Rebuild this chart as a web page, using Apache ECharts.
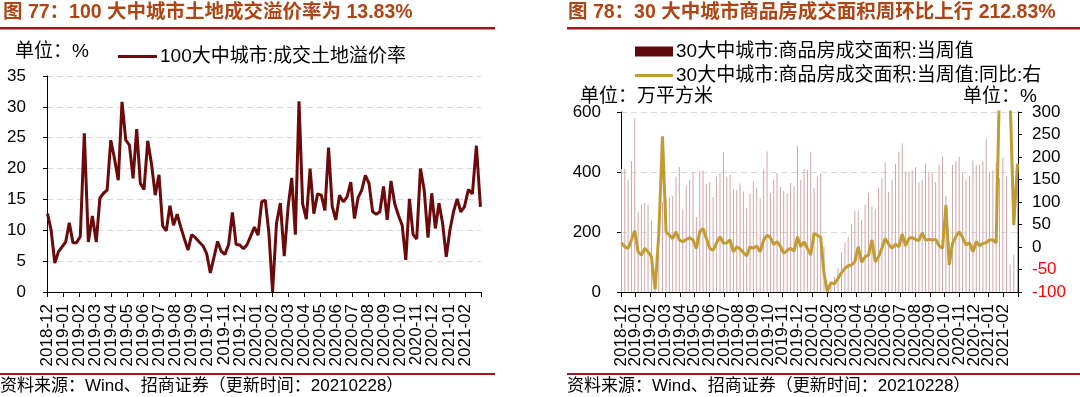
<!DOCTYPE html>
<html>
<head>
<meta charset="utf-8">
<script src="https://cdn.jsdelivr.net/npm/echarts@6/dist/echarts.min.js"></script>
<style>html,body{margin:0;padding:0;background:#fff;}#c{width:1080px;height:397px;}</style>
</head>
<body>
<div id="c"></div>
<script>
// ---------- data ----------
const weekDates = [
'2018-12-02','2018-12-09','2018-12-16','2018-12-23','2018-12-30',
'2019-01-06','2019-01-13','2019-01-20','2019-01-27',
'2019-02-03','2019-02-10','2019-02-17','2019-02-24',
'2019-03-03','2019-03-10','2019-03-17','2019-03-24','2019-03-31',
'2019-04-07','2019-04-14','2019-04-21','2019-04-28',
'2019-05-05','2019-05-12','2019-05-19','2019-05-26',
'2019-06-02','2019-06-09','2019-06-16','2019-06-23','2019-06-30',
'2019-07-07','2019-07-14','2019-07-21','2019-07-28',
'2019-08-04','2019-08-11','2019-08-18','2019-08-25',
'2019-09-01','2019-09-08','2019-09-15','2019-09-22','2019-09-29',
'2019-10-06','2019-10-13','2019-10-20','2019-10-27',
'2019-11-03','2019-11-10','2019-11-17','2019-11-24',
'2019-12-01','2019-12-08','2019-12-15','2019-12-22','2019-12-29',
'2020-01-05','2020-01-12','2020-01-19','2020-01-26',
'2020-02-02','2020-02-09','2020-02-16','2020-02-23',
'2020-03-01','2020-03-08','2020-03-15','2020-03-22','2020-03-29',
'2020-04-05','2020-04-12','2020-04-19','2020-04-26',
'2020-05-03','2020-05-10','2020-05-17','2020-05-24','2020-05-31',
'2020-06-07','2020-06-14','2020-06-21','2020-06-28',
'2020-07-05','2020-07-12','2020-07-19','2020-07-26',
'2020-08-02','2020-08-09','2020-08-16','2020-08-23','2020-08-30',
'2020-09-06','2020-09-13','2020-09-20','2020-09-27',
'2020-10-04','2020-10-11','2020-10-18','2020-10-25',
'2020-11-01','2020-11-08','2020-11-15','2020-11-22','2020-11-29',
'2020-12-06','2020-12-13','2020-12-20','2020-12-27',
'2021-01-03','2021-01-10','2021-01-17','2021-01-24','2021-01-31',
'2021-02-07','2021-02-14','2021-02-21','2021-02-28'
];
// month tick labels (one per month boundary; last boundary = end of 2021-02, unlabeled)
const monthLabels = [
'2018-12','2019-01','2019-02','2019-03','2019-04','2019-05','2019-06','2019-07','2019-08',
'2019-09','2019-10','2019-11','2019-12','2020-01','2020-02','2020-03','2020-04','2020-05',
'2020-06','2020-07','2020-08','2020-09','2020-10','2020-11','2020-12','2021-01','2021-02',''
];
// 100大中城市:成交土地溢价率 (%)
const landPremium = [
12.7,10.0,4.7,6.5,7.3,8.1,11.2,8.0,8.0,9.0,
25.7,8.1,12.3,8.1,15.2,16.0,16.5,24.6,21.6,18.1,
30.8,24.6,23.8,18.4,26.4,17.6,16.6,24.5,20.8,15.7,
19.0,10.7,9.9,14.0,10.8,12.6,10.5,8.6,6.8,9.3,
8.8,8.1,7.5,6.2,3.1,5.6,8.2,6.6,6.1,7.7,
12.9,7.7,7.6,7.0,7.7,9.1,10.5,9.2,14.6,14.9,
9.5,0.0,11.1,14.4,5.8,13.8,18.5,9.3,30.9,
14.3,11.8,20.0,12.7,15.9,15.7,13.2,23.4,13.9,11.7,
15.7,14.6,15.4,17.8,11.9,15.3,16.5,18.9,17.6,13.0,
12.6,13.0,17.1,11.7,18.0,14.3,12.4,10.8,5.2,15.1,
9.3,8.6,20.0,16.5,8.8,16.0,10.3,14.4,11.1,5.7,
10.0,13.0,15.1,13.0,13.8,16.6,15.9,23.7,13.8
];
// 30大中城市:商品房成交面积:当周值 (万平方米)
const weeklyArea = [
410,412,374,437,579,266,291,296,291,238,
40,130,300,315,315,319,385,417,274,355,
374,401,250,404,406,359,366,316,385,398,
466,383,390,344,340,362,335,279,329,368,
348,311,409,468,330,374,396,352,337,329,
363,354,487,374,410,406,466,348,385,394,
150,15,30,50,80,133,166,184,226,272,
272,241,292,329,285,277,348,379,433,333,
374,426,468,496,401,401,406,417,366,374,
429,401,396,366,424,451,322,163,424,437,
451,396,374,385,438,424,424,437,512,401,
406,429,380,448,385,91,124,388
];
// 30大中城市:商品房成交面积:当周值:同比 (%)
const areaYoY = [
9.4,0.5,-3,15.5,36,-10.5,-18,-3,-10.5,-21.6,
-94,30,246,33.8,26.4,19,33.8,15.5,11.6,17,
20.5,15.5,-3,33.8,41,19,-3,-6.8,9.4,22.7,
8,9.4,15.5,-10.5,0.5,-4.6,-12,-20,0.5,-3,
2,-10.5,15.5,26.4,21,5.7,11.6,2,-14,-8,
-3,-9,22.7,
0.5,11.6,-3,-18,30,26.4,21,-58.6,-99,-79,
-82,-70,-57,-47.5,-41.6,-40,-32.7,0.5,-34,-21.6,
-18,15.5,-33,-21.6,-3,19,6.5,-3,6.5,0.5,
28.6,2.8,19,21,17,14,31.6,15.5,17,15.5,
17,2.8,-3,93,-40,8,22.7,33.8,21,4.3,
9.4,-10.5,11.6,2.8,8,9.4,15.5,15.5,9.4,
360,600,600,330,48.6,185
];

// ---------- helpers ----------
function xOf(ds){
  const p = ds.split('-').map(Number);
  const idx = (p[0]-2018)*12 + (p[1]-12);
  const dim = new Date(p[0], p[1], 0).getDate();
  return idx + (p[2]-1)/dim;
}
const xs = weekDates.map(xOf);
const X_MAX = monthLabels.length - 1;
const pair = arr => arr.map((v,i)=>[xs[i], v]);

const FONT = '"Liberation Sans", Arial, "Noto Sans CJK SC", sans-serif';
const TITLE_COLOR = '#AE4514';
const RULE_COLOR = '#9E1A1A';
const DARK_RED = '#5E0A0A';
const GOLD = '#C39B33';
const NAME_L = '100大中城市:成交土地溢价率';
const NAME_B = '30大中城市:商品房成交面积:当周值';
const NAME_Y = '30大中城市:商品房成交面积:当周值:同比:右';
const AXIS_FS = 17;
const TXT_FS = 19;

// value axis: positions, axis line and monthly ticks
function xValueAxis(gridIndex){
  return {
    type:'value', gridIndex, min:0, max:X_MAX, interval:1,
    axisLine:{show:true, lineStyle:{color:'#000', width:1}},
    axisTick:{show:true, length:5, lineStyle:{color:'#000'}},
    splitLine:{show:false},
    axisLabel:{show:false}
  };
}
// category axis on top of it: month labels only
function xLabelAxis(gridIndex){
  return {
    type:'category', gridIndex, data:monthLabels, boundaryGap:false, position:'bottom',
    axisLine:{show:false}, axisTick:{show:false}, splitLine:{show:false},
    axisLabel:{interval:0, rotate:90, margin:12, fontSize:AXIS_FS, color:'#000', fontFamily:FONT}
  };
}
const dashed = {show:true, lineStyle:{color:'#D9D9D9', type:[6,4], width:1.2}};

const option = {
  animation:false,
  backgroundColor:'#fff',
  textStyle:{fontFamily:FONT},
  grid:[
    {left:47, top:76, width:434, height:216},
    {left:621, top:112, width:397, height:180}
  ],
  xAxis:[xValueAxis(0), xLabelAxis(0), xValueAxis(1), xLabelAxis(1)],
  yAxis:[
    {type:'value', gridIndex:0, min:0, max:35, interval:5,
     axisLine:{show:true, lineStyle:{color:'#000'}},
     axisTick:{show:true, length:4, lineStyle:{color:'#000'}},
     axisLabel:{fontSize:AXIS_FS, color:'#000', margin:21, fontFamily:FONT},
     splitLine:dashed},
    {type:'value', gridIndex:1, min:0, max:600, interval:200,
     axisLine:{show:true, lineStyle:{color:'#000'}},
     axisTick:{show:true, length:4, lineStyle:{color:'#000'}},
     axisLabel:{fontSize:AXIS_FS, color:'#000', margin:20, fontFamily:FONT},
     splitLine:dashed},
    {type:'value', gridIndex:1, position:'right', min:-100, max:300, interval:50,
     axisLine:{show:true, lineStyle:{color:'#000'}},
     axisTick:{show:true, length:4, lineStyle:{color:'#000'}},
     axisLabel:{fontSize:AXIS_FS, margin:14, fontFamily:FONT,
       color:v=> (Number(v)<0 ? '#FF0000' : '#000')},
     splitLine:{show:false}}
  ],
  legend:[
    {left:113, top:42, itemWidth:39, itemHeight:3, icon:'rect', itemGap:0,
     textStyle:{fontSize:TXT_FS, color:'#000', fontFamily:FONT, padding:[0,0,0,-2]}, data:[NAME_L]},
    {left:630, top:37, itemWidth:38, itemHeight:10, icon:'rect',
     textStyle:{fontSize:TXT_FS, color:'#000', fontFamily:FONT, padding:[0,0,0,-2]},
     data:[{name:NAME_B, icon:'rect', itemStyle:{color:DARK_RED}}]},
    {left:630, top:61, itemWidth:38, itemHeight:3, icon:'rect',
     textStyle:{fontSize:TXT_FS, color:'#000', fontFamily:FONT, padding:[0,0,0,-2]}, data:[NAME_Y]}
  ],
  series:[
    {name:NAME_L, type:'line', xAxisIndex:0, yAxisIndex:0, data:pair(landPremium),
     symbol:'none', lineStyle:{color:'#6A0A0A', width:3}, itemStyle:{color:'#6A0A0A'}},
    {name:NAME_B, type:'bar', xAxisIndex:2, yAxisIndex:1, data:pair(weeklyArea),
     barWidth:1, itemStyle:{color:'#CFA6AA'}},
    {name:NAME_Y, type:'line', xAxisIndex:2, yAxisIndex:2, data:pair(areaYoY),
     symbol:'none', lineStyle:{color:GOLD, width:3}, itemStyle:{color:GOLD}, z:5}
  ],
  graphic:[
    {type:'text', left:3, top:3, style:{text:'图 77：100 大中城市土地成交溢价率为 13.83%', fontSize:19.5, fontWeight:'bold', fill:TITLE_COLOR, fontFamily:FONT}},
    {type:'rect', shape:{x:0, y:27, width:495, height:2.5}, style:{fill:RULE_COLOR}},
    {type:'text', left:568, top:3, style:{text:'图 78：30 大中城市商品房成交面积周环比上行 212.83%', fontSize:19.5, fontWeight:'bold', fill:TITLE_COLOR, fontFamily:FONT}},
    {type:'rect', shape:{x:567, y:27, width:513, height:2.5}, style:{fill:RULE_COLOR}},
    {type:'text', left:15, top:42, style:{text:'单位：%', fontSize:TXT_FS, fill:'#000', fontFamily:FONT}},
    {type:'text', left:580, top:87, style:{text:'单位：万平方米', fontSize:TXT_FS, fill:'#000', fontFamily:FONT}},
    {type:'text', left:963, top:87, style:{text:'单位：%', fontSize:TXT_FS, fill:'#000', fontFamily:FONT}},
    {type:'rect', shape:{x:0, y:373, width:495, height:2}, style:{fill:RULE_COLOR}},
    {type:'rect', shape:{x:567, y:373, width:513, height:2}, style:{fill:RULE_COLOR}},
    {type:'text', left:0, top:378, style:{text:'资料来源：Wind、招商证券（更新时间：20210228）', fontSize:17, fill:'#000', fontFamily:FONT}},
    {type:'text', left:567, top:378, style:{text:'资料来源：Wind、招商证券（更新时间：20210228）', fontSize:17, fill:'#000', fontFamily:FONT}}
  ]
};
const chart = echarts.init(document.getElementById('c'), null, {renderer:'canvas'});
chart.setOption(option);
</script>
</body>
</html>
